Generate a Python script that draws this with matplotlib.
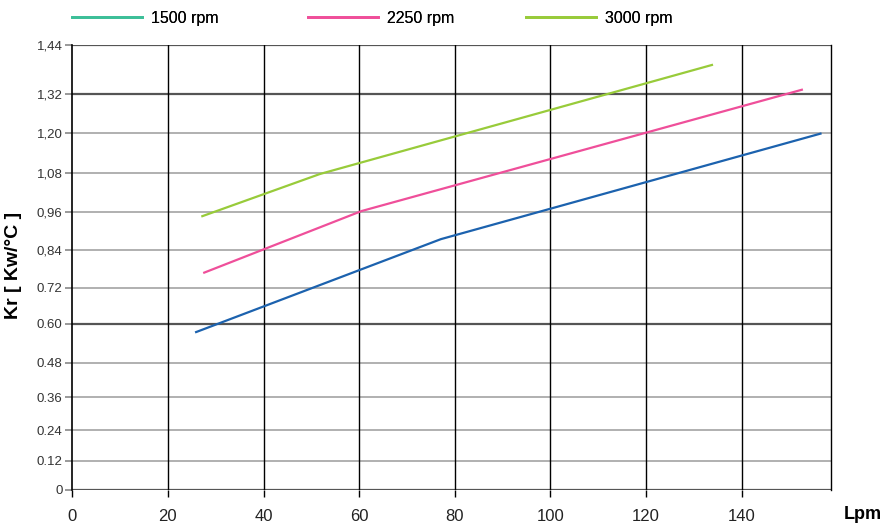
import numpy as np
import matplotlib
matplotlib.use("Agg")
import matplotlib.pyplot as plt
from matplotlib.lines import Line2D

# datos
lpm_1500 = [25.9, 77.1, 156.5]
kr_1500 = [0.575, 0.874, 1.199]
lpm_2250 = [27.6, 60.5, 152.6]
kr_2250 = [0.768, 0.962, 1.331]
lpm_3000 = [27.2, 51.8, 133.8]
kr_3000 = [0.946, 1.076, 1.391]

series_names = ["1500 rpm", "2250 rpm", "3000 rpm"]
x_ticks = [0, 20, 40, 60, 80, 100, 120, 140]
y_ticks = [0, 0.12, 0.24, 0.36, 0.48, 0.60, 0.72, 0.84, 0.96, 1.08, 1.20, 1.32, 1.44]
y_tick_labels = ["0", "0.12", "0.24", "0.36", "0.48", "0.60", "0.72",
                 "0,84", "0,96", "1,08", "1,20", "1,32", "1,44"]

# el eje Y del original no es lineal: posicion relativa de cada marca
y_scale_pos = [0, 29.3, 59.7, 92.7, 127.3, 166, 202.3, 240, 278.3, 317.3, 356.7, 395.7, 445.3]


def fwd(y):
    return np.interp(y, y_ticks, y_scale_pos)


def inv(p):
    return np.interp(p, y_scale_pos, y_ticks)


tick_font = "Liberation Sans"
line_colors = ["#1c62ae", "#ef4f9a", "#98cb3a"]
legend_colors = ["#3cbf98", "#ef4f9a", "#98cb3a"]

fig = plt.figure(figsize=(8.93, 5.26), dpi=100)
ax = fig.add_axes([72.3 / 893, 36 / 526, 758.7 / 893, 445.3 / 526])
ax.set_yscale("function", functions=(fwd, inv))
ax.set_xlim(0, 158.7)
ax.set_ylim(0, 1.44)

# rejilla
for v in y_ticks:
    dark = v in (0, 0.60, 1.32, 1.44)
    ax.axhline(v, color="#555555" if dark else "#aaaaaa", lw=1.6 if dark else 1.3, zorder=1)
for v in x_ticks[1:]:
    ax.axvline(v, color="black", lw=1.0, zorder=1)

ax.plot(lpm_1500, kr_1500, color=line_colors[0], lw=1.6, zorder=3)
ax.plot(lpm_2250, kr_2250, color=line_colors[1], lw=1.6, zorder=3)
ax.plot(lpm_3000, kr_3000, color=line_colors[2], lw=1.6, zorder=3)

ax.set_xticks(x_ticks)
ax.set_xticklabels([str(t) for t in x_ticks], family=tick_font, fontsize=12, color="#222222")
ax.set_yticks(y_ticks)
ax.set_yticklabels(y_tick_labels, family=tick_font, fontsize=9.5, color="#333333")
ax.minorticks_off()
ax.tick_params(axis="x", length=5, width=1, color="black", pad=9)
ax.tick_params(axis="y", length=5, width=1.2, color="#888888", pad=2)

for s in ["top", "bottom"]:
    ax.spines[s].set_visible(False)
ax.spines["left"].set_color("black")
ax.spines["right"].set_color("black")
ax.spines["left"].set_linewidth(1.2)
ax.spines["right"].set_linewidth(1.0)

ax.set_ylabel("Kr [ Kw/°C ]", family="Liberation Sans", fontweight="bold", fontsize=14)
ax.yaxis.set_label_coords(-0.066, 0.505)
ax.set_xlabel("Lpm", family=tick_font, fontweight="bold", fontsize=13, va="center")
ax.xaxis.set_label_coords(1.042, -0.056)

# leyenda arriba
legend_x = [72 / 893, 308 / 893, 526 / 893]
for name, col, lx in zip(series_names, legend_colors, legend_x):
    h = Line2D([], [], color=col, lw=2)
    lg = fig.legend([h], [name], loc="center left", bbox_to_anchor=(lx, 1 - 18 / 526),
                    frameon=False, handlelength=4.4, handletextpad=0.55, borderpad=0,
                    borderaxespad=0, prop={"family": tick_font, "size": 11.5})
    fig.add_artist(lg)

fig.savefig("out.png", dpi=100)
